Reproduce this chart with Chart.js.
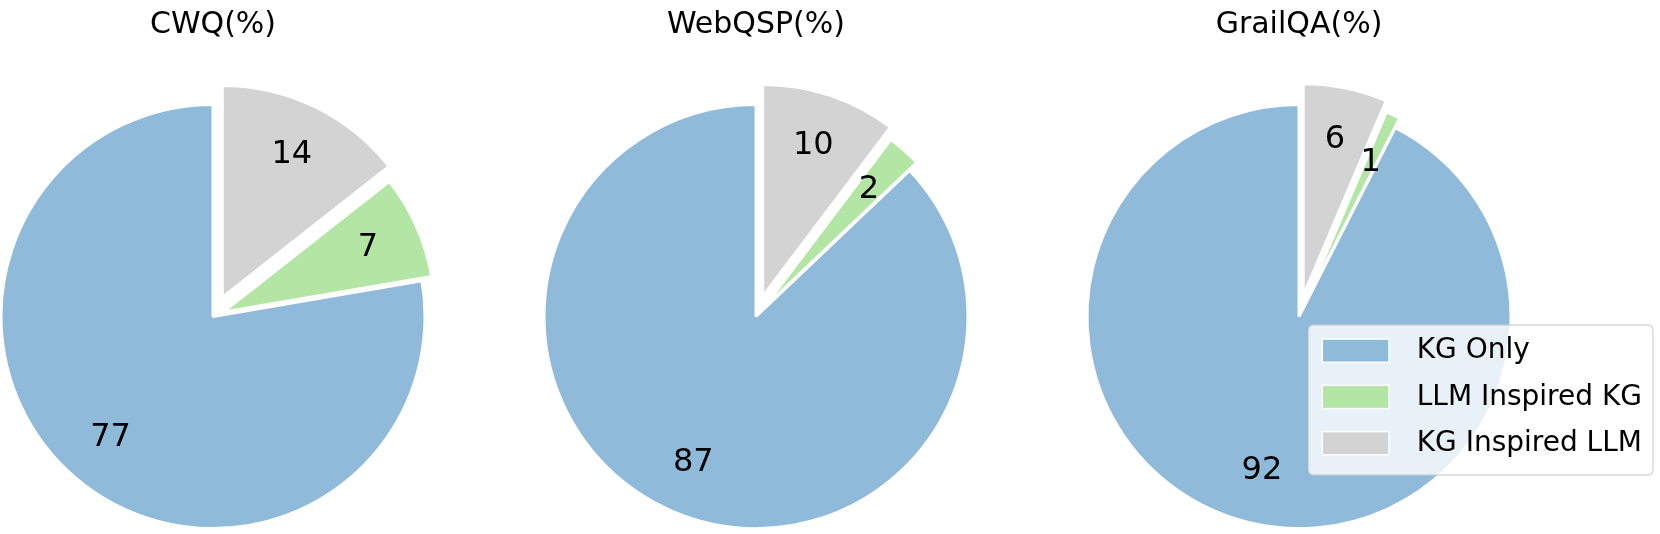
<!DOCTYPE html>
<html>
<head>
<meta charset="utf-8">
<title>KG / LLM answer sources</title>
<script src="https://cdn.jsdelivr.net/npm/chart.js@4.4.1/dist/chart.umd.min.js"></script>
<style>
    html, body { margin: 0; padding: 0; background: #fff; overflow: hidden; }
    #wrap { position: relative; width: 1660px; height: 534px; overflow: hidden; }
    #wrap canvas { position: absolute; top: 0; }
</style>
</head>
<body>
<div id="wrap">
    <canvas id="cwq" width="724" height="534"></canvas>
    <canvas id="webqsp" width="724" height="534"></canvas>
    <canvas id="grailqa" width="724" height="534"></canvas>
</div>
<script>
// legend order
const categories = ['KG Only', 'LLM Inspired KG', 'KG Inspired LLM'];
const colors = ['#8fbad9', '#b3e6a5', '#d3d3d3'];

const titles = ['CWQ(%)', 'WebQSP(%)', 'GrailQA(%)'];
const cwqShare = [77.7, 7.9, 14.4];
const webqspShare = [87.1, 2.6, 10.3];
const grailqaShare = [92.5, 1.1, 6.4];

// pull-out of each wedge, fraction of the radius
const explode = [0, 0.05, 0.1];

const RADIUS = 212;
const CANVAS_W = 724;
const pieCenters = [213, 755.5, 1299]; // page x of every pie

Chart.defaults.font.family = '"DejaVu Sans", sans-serif';
Chart.defaults.color = '#000';

// draw the wedges ourselves so each one can be shifted out along its middle angle
const explodePlugin = {
    id: 'explode',
    beforeDatasetDraw(chart, args) {
        const ctx = chart.ctx;
        const ex = chart.data.datasets[args.index].explode;
        args.meta.data.forEach(function(arc, i) {
            const mid = (arc.startAngle + arc.endAngle) / 2;
            const d = ex[i] * arc.outerRadius;
            ctx.save();
            ctx.translate(Math.cos(mid) * d, Math.sin(mid) * d);
            arc.draw(ctx);
            ctx.restore();
        });
        return false;
    }
};

// integer labels like matplotlib's autopct='%d'
const pctLabels = {
    id: 'pctLabels',
    afterDatasetsDraw(chart) {
        const ctx = chart.ctx;
        const ds = chart.data.datasets[0];
        const meta = chart.getDatasetMeta(0);
        ctx.save();
        ctx.font = '32px "DejaVu Sans"';
        ctx.fillStyle = '#000';
        ctx.textAlign = 'center';
        ctx.textBaseline = 'middle';
        meta.data.forEach(function(arc, i) {
            const mid = (arc.startAngle + arc.endAngle) / 2;
            const r = arc.outerRadius * (ds.explode[i] + 0.75);
            ctx.fillText(String(Math.floor(ds.data[i])), arc.x + Math.cos(mid) * r, arc.y + Math.sin(mid) * r);
        });
        ctx.restore();
    }
};

const boxLegend = {
    id: 'boxLegend',
    afterDraw(chart, args, opts) {
        if (!opts.show) return;
        const ctx = chart.ctx;
        const x = opts.left, y = opts.top;
        ctx.save();
        ctx.beginPath();
        ctx.roundRect(x, y, opts.width, opts.height, 5);
        ctx.fillStyle = 'rgba(255,255,255,0.8)';
        ctx.fill();
        ctx.strokeStyle = 'rgba(204,204,204,0.8)';
        ctx.lineWidth = 1.3;
        ctx.stroke();

        ctx.font = '28px "DejaVu Sans"';
        ctx.textAlign = 'left';
        ctx.textBaseline = 'middle';
        categories.forEach(function(name, i) {
            const py = y + 14 + i * 46.3;
            ctx.fillStyle = colors[i];
            ctx.fillRect(x + 14, py, 66.7, 23.3);
            ctx.strokeStyle = '#fff';
            ctx.lineWidth = 1.5;
            ctx.strokeRect(x + 14, py, 66.7, 23.3);
            ctx.fillStyle = '#000';
            ctx.fillText(name, x + 108.4, py + 12);
        });
        ctx.restore();
    }
};

function drawPie(canvasId, title, share, pageX, withLegend) {
    const canvas = document.getElementById(canvasId);
    const left = pageX - CANVAS_W / 2;
    canvas.style.left = left + 'px';

    // clockwise from 12 o'clock, like matplotlib counter-clockwise from 90deg
    const order = [2, 1, 0];

    new Chart(canvas.getContext('2d'), {
        type: 'pie',
        data: {
            labels: order.map(i => categories[i]),
            datasets: [{
                data: order.map(i => share[i]),
                explode: order.map(i => explode[i]),
                backgroundColor: order.map(i => colors[i]),
                borderColor: '#ffffff',
                borderWidth: 3,
                radius: RADIUS
            }]
        },
        options: {
            responsive: false,
            animation: false,
            events: [],
            layout: { padding: 0 },
            plugins: {
                legend: { display: false },
                tooltip: { enabled: false },
                title: {
                    display: true,
                    text: title,
                    font: { size: 30, weight: 'normal' },
                    color: '#000',
                    padding: { top: 7, bottom: 56 }
                },
                boxLegend: {
                    show: withLegend,
                    left: 1308.3 - left,
                    top: 325,
                    width: 344.7,
                    height: 150
                }
            }
        },
        plugins: [explodePlugin, pctLabels, boxLegend]
    });
}

drawPie('cwq', titles[0], cwqShare, pieCenters[0], false);
drawPie('webqsp', titles[1], webqspShare, pieCenters[1], false);
drawPie('grailqa', titles[2], grailqaShare, pieCenters[2], true);
</script>
</body>
</html>
